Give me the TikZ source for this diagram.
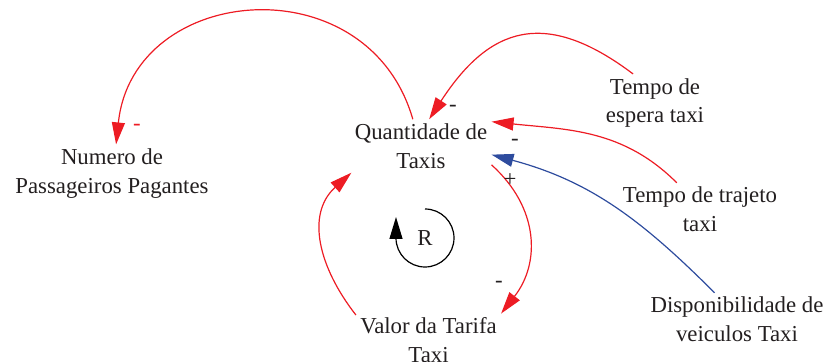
\documentclass[tikz,border=0pt]{standalone}
\usepackage{fontspec}
\setmainfont{Liberation Serif}
\usetikzlibrary{arrows.meta}
\definecolor{linkRed}{HTML}{ED1C24}
\definecolor{linkBlue}{HTML}{2E4C9E}
\definecolor{textGray}{HTML}{231F20}
\tikzset{
  font=\fontsize{11.4}{14.3}\selectfont,
  var/.style     ={align=center, inner sep=2pt, text=textGray},
  arr/.style     ={-{Triangle[length=11pt,width=6.5pt]}, line width=0.6pt},
  redlink/.style ={arr, linkRed},
  bluelink/.style={arr, linkBlue},
  sign/.style    ={inner sep=0pt, text=textGray},
}

\begin{document}
\begin{tikzpicture}[x=0.5pt,y=0.5pt]
  \useasboundingbox (0,0) rectangle (827,-362);
  % variables
  \node[var] (qtd)   at (421,-146)   {Quantidade de\\Taxis};
  \node[var] (npp)   at (112,-173.5) {Numero de\\Passageiros Pagantes};
  \node[var] (tesp)  at (655,-103)   {Tempo de\\espera taxi};
  \node[var] (ttraj) at (700,-209.5) {Tempo de trajeto\\taxi};
  \node[var] (disp)  at (737,-319.5) {Disponibilidade de\\veiculos Taxi};
  \node[var] (valor) at (428.5,-340) {Valor da Tarifa\\Taxi};
  % loop R
  \node[sign] (loopR) at (425,-238) {R};
  \draw[arr] ([yshift=14.5pt]loopR.center) arc[start angle=90,end angle=-180,radius=14.5pt] -- ++(0,21);
  % links
  \draw[redlink]  (qtd.107)   to[out=106,in=84,looseness=1.4]  (npp.82);
  \draw[redlink]  (tesp.127)  to[out=143,in=57,looseness=1.35] (qtd.73);
  \draw[redlink]  (ttraj.131) to[out=135,in=-6]                (qtd.19);
  \draw[bluelink] (disp.130)  to[out=135,in=-15]               (qtd.353);
  \draw[redlink]  (qtd.345)   to[out=-42,in=52,looseness=1.1]  (valor.20);
  \draw[redlink]  (valor.161) to[out=128,in=222,looseness=1.1] (qtd.201);
  % polarities
  \node[sign, text=linkRed] (sNpp) at (137,-127) {-};
  \node[sign] (sTesp)  at (453,-108) {-};
  \node[sign] (sTtraj) at (515,-142) {-};
  \node[sign] (sDisp)  at (510,-180) {+};
  \node[sign] (sValor) at (499,-284) {-};
\end{tikzpicture}
\end{document}
